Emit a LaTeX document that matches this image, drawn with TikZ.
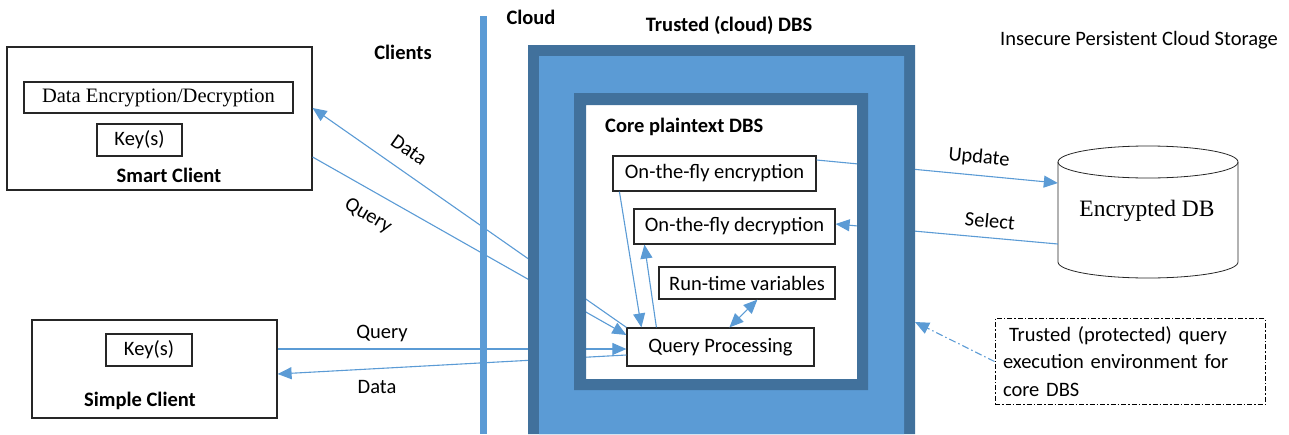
\documentclass[tikz,border=0pt]{standalone}
\usepackage{fontspec}
\setmainfont{Carlito}
\newfontfamily\serifff{Liberation Serif}
\usetikzlibrary{arrows.meta,calc}
\definecolor{lblue}{HTML}{5B9BD5}
\definecolor{dblue}{HTML}{41719C}
\newcommand\fs{\fontsize{20.5}{27.5}\selectfont}
\tikzset{
  box/.style={draw=black!85, line width=1.2pt, inner sep=0pt, font=\fs},
  lbl/.style={font=\fs, inner sep=0pt},
  blbl/.style={font=\fs\bfseries, inner sep=0pt},
  conn/.style={draw=lblue, line width=1.1pt, -{Triangle[length=14pt,width=12pt]}},
  dconn/.style={draw=lblue, line width=1.1pt, {Triangle[length=14pt,width=12pt]}-{Triangle[length=14pt,width=12pt]}},
}
\begin{document}
\begin{tikzpicture}[x=1pt,y=-1pt]
\useasboundingbox (0,0) rectangle (1289,434);
% clients
\node[box, minimum width=305pt, minimum height=143pt] (sc) at (159.5,118.5) {};
\node[box, minimum width=269pt, minimum height=31pt, font=\fs\serifff] (dedc) at (158.5,97.5) {Data Encryption/Decryption};
\node[box, minimum width=85pt, minimum height=32pt] (key1) at (139.5,140) {Key(s)};
\node[blbl] (sclbl) at (169,175) {Smart Client};
\node[box, minimum width=245pt, minimum height=98pt] (simple) at (154.5,369) {};
\node[box, minimum width=86pt, minimum height=32pt] (key2) at (149,350) {Key(s)};
\node[blbl] (simlbl) at (140,401) {Simple Client};
% labels
\node[blbl] (clients) at (403,52) {Clients};
\node[blbl] (cloud) at (531,17) {Cloud};
\node[blbl] (tdbs) at (729,25) {Trusted (cloud) DBS};
\node[lbl] (insec) at (1139,40) {Insecure Persistent Cloud Storage};
\node[blbl, anchor=west] (core) at (605,127) {Core plaintext DBS};
% core boxes
\node[box, minimum width=203pt, minimum height=35pt] (enc) at (714.5,173.5) {On-the-fly encryption};
\node[box, minimum width=201pt, minimum height=35pt] (dec) at (734.5,226.5) {On-the-fly decryption};
\node[box, minimum width=176pt, minimum height=32pt] (rtv) at (747,283) {Run-time variables};
\node[box, minimum width=187pt, minimum height=38pt] (qp) at (720.5,347) {Query Processing};
% encrypted db
\draw[line width=0.8pt, draw=black!85] (1058,162) -- (1058,262) arc[start angle=180, end angle=360, x radius=90pt, y radius=16pt] -- (1238,162);
\draw[line width=0.8pt, draw=black!85] (1148,162) ellipse [x radius=90pt, y radius=16pt];
\node[inner sep=0pt, minimum width=180pt, minimum height=116pt] (db) at (1148,212) {};
\node[font=\fontsize{23.5}{28}\selectfont\serifff, inner sep=0pt] (dblbl) at (1147,211) {Encrypted DB};
% trusted env box
\node[draw=black, line width=1pt, dash pattern=on 5pt off 2pt on 1.5pt off 2pt, minimum width=270pt, minimum height=83pt, text width=254pt, inner sep=8pt, align=left, font=\fs] (tenv) at (1130,361.5) {\hspace{6pt}Trusted (protected) query\\execution environment for\\core DBS};
\coordinate (trustE) at (915,322);
% connectors
\draw[conn] (qp.north west) -- ([yshift=10.5pt]sc.east);
\node[lbl, rotate=-35] (ldata1) at (409,150) {Data};
\draw[conn] ([yshift=-38.5pt]sc.east) -- ([yshift=12pt]qp.west);
\node[lbl, rotate=-31] (lquery1) at (368,216) {Query};
\draw[conn] ([yshift=20pt]simple.east) -- ([yshift=-2pt]qp.west);
\node[lbl] (lquery2) at (382,333) {Query};
\draw[conn] ([yshift=-8pt]qp.west) -- ([yshift=-5pt]simple.east);
\node[lbl] (ldata2) at (377,387) {Data};
\draw[conn] ([xshift=30pt]qp.north west) -- ([xshift=11pt]dec.south west);
\draw[conn] ([xshift=7pt]enc.south west) -- ([xshift=15pt]qp.north west);
\draw[dconn] ([xshift=99pt]rtv.south west) -- ([xshift=103pt]qp.north west);
\draw[conn] ([yshift=13.5pt]enc.east) -- ([yshift=29pt]db.west);
\node[lbl, rotate=-5] (lupd) at (979,158) {Update};
\draw[conn] ([yshift=-32pt]db.west) -- ([yshift=2.5pt]dec.east);
\node[lbl, rotate=-5] (lsel) at (990,221) {Select};
% frames
\fill[dblue, even odd rule] (528,45) rectangle (915,434) (539,56) rectangle (904,434);
\fill[lblue, even odd rule] (539,56) rectangle (904,434) (574,93) rectangle (868,390);
\fill[dblue, even odd rule] (574,93) rectangle (868,390) (586,105) rectangle (857,379);
% cloud line
\draw[lblue, line width=7pt] (483,16) -- (483,434);
% dash-dot arrow
\draw[conn, dash pattern=on 7pt off 3pt on 1.5pt off 3pt] (tenv.west) -- (trustE);
\end{tikzpicture}
\end{document}
